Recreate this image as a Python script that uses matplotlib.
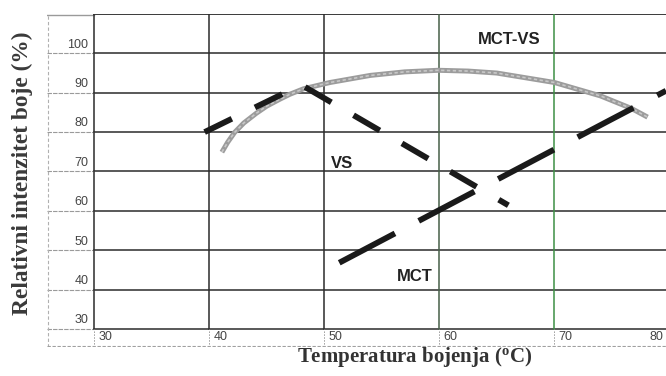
import matplotlib.pyplot as plt
import numpy as np

# ocitano sa slike
temp_vs = [39.6, 44, 48, 52, 56, 60, 63, 66]
int_vs = [80, 86.3, 92, 85.2, 78.4, 71.6, 66.5, 61.4]

temp_mct = [51.3, 55, 60, 65, 70, 75, 79.7]
int_mct = [46.8, 52.5, 60.2, 67.9, 75.6, 83.3, 90.5]

temp_mctvs = [41.1, 41.6, 42.2, 43, 44.1, 45, 46.1, 47, 48.2, 50.5, 54, 57, 59.9, 62.5, 65, 70, 74, 76.7, 78.1]
int_mctvs = [74.9, 77.4, 79.9, 82.3, 84.8, 86.6, 88.3, 89.6, 91, 92.6, 94.4, 95.3, 95.7, 95.5, 95, 92.6, 89.2, 86, 83.8]

x_ticks = [30, 40, 50, 60, 70, 80]
y_ticks = [30, 40, 50, 60, 70, 80, 90, 100]
x_lab = ['30', '40', '50', '60', '70', '80']
y_lab = ['30', '40', '50', '60', '70', '80', '90', '100']

x0, x1 = 25.9, 79.7
y0, y1 = 25.4, 110

fig = plt.figure(figsize=(6.66, 3.76), dpi=100)
ax = fig.add_axes([47/666, 29/376, 619/666, 333/376])
ax.set_xlim(x0, x1)
ax.set_ylim(y0, y1)
ax.axis('off')

grid = '#2b2b2b'
light = '#9a9a9a'

# horizontalne linije
for y in y_ticks:
    ax.plot([30, x1], [y, y], color=grid, lw=1.1, zorder=1)
    ax.plot([x0, 30], [y, y], color=light, lw=0.8, ls=(0, (4, 1)), zorder=1)
ax.plot([30, x1], [y1, y1], color=grid, lw=1.3, zorder=1)
ax.plot([x0, 30], [y1 - 0.15, y1 - 0.15], color=light, lw=1.0, zorder=1)

# vertikalne linije
vcol = {30: grid, 40: grid, 50: grid, 60: '#465f48', 70: '#3d8f45'}
for x in x_ticks:
    if x > x1:
        continue
    ax.plot([x, x], [30, y1], color=vcol[x], lw=1.1, zorder=1)
    ax.plot([x, x], [y0, 30], color=light, lw=0.7, ls=(0, (1.5, 1.5)), zorder=1)

# okvir
ax.plot([x0 + 0.05, x0 + 0.05], [y0, y1], color='#b0b0b0', lw=0.8, ls=(0, (3, 2)), zorder=1)
ax.plot([x0, x1], [y0 + 0.2, y0 + 0.2], color='#a0a0a0', lw=0.8, ls=(0, (3, 1.5)), zorder=1)

# oznake osa
for y, t in zip(y_ticks, y_lab):
    ax.text(29.5, y + 2.2, t, ha='right', va='center', fontsize=9,
            family='Liberation Sans', color='#444444')
for x, t in zip(x_ticks, x_lab):
    ax.text(min(x + 0.35, 78.3), 27.9, t, ha='left', va='center', fontsize=9,
            family='Liberation Sans', color='#444444')

# krive
ax.plot(temp_mctvs, int_mctvs, color='#9c9c9c', lw=3.6, solid_capstyle='butt', zorder=3)
ax.plot(temp_mctvs, int_mctvs, color='#c8c8c8', lw=1.2, ls=(0, (2, 1.5)), zorder=3)

ax.plot(temp_vs, int_vs, color='#1a1a1a', lw=4.2, ls=(0, (5.2, 4.4)), zorder=4)
ax.plot(temp_mct, int_mct, color='#1a1a1a', lw=4.2, ls=(0, (10.8, 4.6)), zorder=4)

ax.text(66.1, 103.4, 'MCT-VS', ha='center', va='center', fontsize=12,
        family='Liberation Sans', weight='bold', color='#222222')
ax.text(51.5, 72.0, 'VS', ha='center', va='center', fontsize=12,
        family='Liberation Sans', weight='bold', color='#222222')
ax.text(57.9, 43.4, 'MCT', ha='center', va='center', fontsize=12,
        family='Liberation Sans', weight='bold', color='#222222')

fig.text(415/666, 19/376, r'Temperatura bojenja ($\mathregular{^o}$C)', ha='center', va='center',
         fontsize=15, family='Liberation Serif', weight='bold', color='#333333')
fig.text(22/666, 203/376, 'Relativni intenzitet boje (%)', ha='center', va='center',
         rotation=90, fontsize=16.8, family='Liberation Serif', weight='bold', color='#3a3a3a')

fig.savefig('out.png', dpi=100)
